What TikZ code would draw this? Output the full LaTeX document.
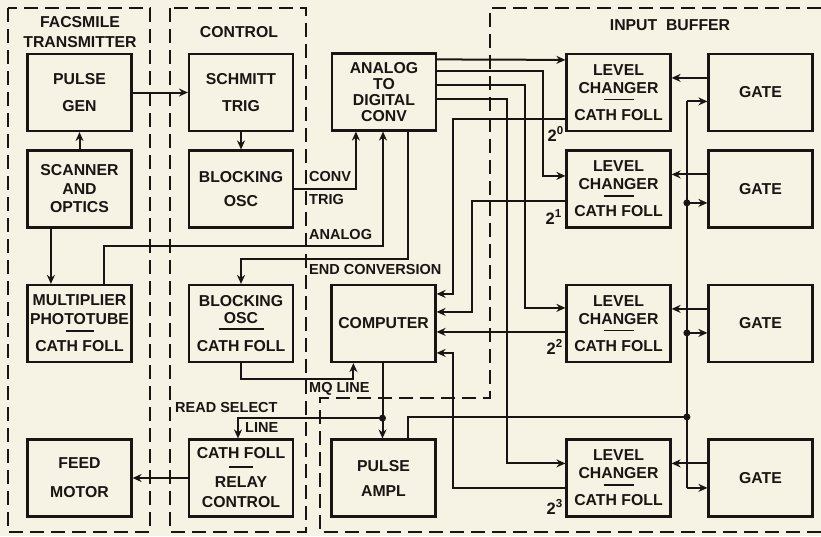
\documentclass[tikz,border=0pt]{standalone}
\usepackage{fontspec}
\setmainfont{Liberation Sans}
\usetikzlibrary{arrows.meta,calc}
\definecolor{bg}{RGB}{246,242,228}
\definecolor{ink}{RGB}{24,21,18}
\newcommand{\dvr}[1]{\rule{#1}{1.8pt}}
\newcommand{\bs}[1]{\bfseries\fontsize{15.8}{#1}\selectfont}
\tikzset{
  blk/.style={draw=ink, line width=2.2pt, fill=bg, minimum width=104pt, minimum height=77pt,
    inner sep=0pt, align=center, text=ink},
  wire/.style={draw=ink, line width=2pt},
  arr/.style={wire, -{Stealth[length=9pt,width=8pt]}},
  frame/.style={draw=ink, line width=2pt, dash pattern=on 14pt off 7pt},
  lbl/.style={text=ink, font=\bfseries\fontsize{14.5}{16}\selectfont, inner sep=0pt},
  pw/.style={text=ink, font=\bfseries\fontsize{16.5}{18}\selectfont, inner sep=0pt},
  ttl/.style={text=ink, font=\bfseries\fontsize{15.8}{20}\selectfont, inner sep=0pt, align=center},
  jdot/.style={circle, fill=ink, inner sep=0pt, minimum size=7pt},
}
\begin{document}
\begin{tikzpicture}[x=1pt,y=-1pt]
\fill[bg] (0,0) rectangle (821,536);
\useasboundingbox (0,0) rectangle (821,536);

% dashed frames
\draw[frame] (8,8) rectangle (150,532);
\draw[frame] (170,8) rectangle (306,532);
\draw[frame] (821,8) -- (490,8) -- (490,398) -- (320,398) -- (320,532) -- (821,532);

% titles
\node[ttl] (tft) at (80,32) {FACSMILE\\TRANSMITTER};
\node[ttl] (tct) at (239,32) {CONTROL};
\node[ttl] (tib) at (670,25) {INPUT\ \ BUFFER};

% blocks
\node[blk, font=\bs{27}] (pg) at (79.5,92.5) {PULSE\\GEN};
\node[blk, font=\bs{18.5}] (sc) at (79.5,189) {SCANNER\\AND\\OPTICS};
\node[blk, font=\bs{19}] (mp) at (79.5,323.5) {MULTIPLIER\\PHOTOTUBE\\[-12pt]\dvr{28pt}\\[1pt]CATH FOLL};
\node[blk, font=\bs{29}] (fm) at (79.5,478) {FEED\\MOTOR};

\node[blk, font=\bs{27}] (st) at (241,92.5) {SCHMITT\\TRIG};
\node[blk, font=\bs{24}] (bo1) at (241,189) {BLOCKING\\OSC};
\node[blk, font=\bs{17}] (bo2) at (241,323.5) {BLOCKING\\OSC\\[-10pt]\dvr{45pt}\\[4.5pt]CATH FOLL};
\node[blk, font=\bs{20}] (rc) at (241,478) {CATH FOLL\\[-11pt]\dvr{24pt}\\[0pt]RELAY\\CONTROL};

\node[blk, font=\bs{16}] (adc) at (384,92) {ANALOG\\TO\\DIGITAL\\CONV};
\node[blk, font=\bs{18}] (comp) at (383.5,323.5) {COMPUTER};
\node[blk, font=\bs{25}] (pa) at (383.5,478) {PULSE\\AMPL};

\node[blk, font=\bs{18}] (lc1) at (618.5,92.5) {LEVEL\\CHANGER\\[-11pt]\dvr{30pt}\\[2pt]CATH FOLL};
\node[blk, font=\bs{18}] (lc2) at (618.5,189) {LEVEL\\CHANGER\\[-11pt]\dvr{30pt}\\[2pt]CATH FOLL};
\node[blk, font=\bs{18}] (lc3) at (618.5,323.5) {LEVEL\\CHANGER\\[-11pt]\dvr{30pt}\\[2pt]CATH FOLL};
\node[blk, font=\bs{18}] (lc4) at (618.5,478) {LEVEL\\CHANGER\\[-11pt]\dvr{30pt}\\[2pt]CATH FOLL};

\node[blk, font=\bs{18}] (g1) at (760.5,92.5) {GATE};
\node[blk, font=\bs{18}] (g2) at (760.5,189) {GATE};
\node[blk, font=\bs{18}] (g3) at (760.5,323.5) {GATE};
\node[blk, font=\bs{18}] (g4) at (760.5,478) {GATE};

% facsimile / control wiring
\draw[arr] (pg.east) -- (st.west);
\draw[arr] (sc.north) -- (pg.south);
\draw[arr] (st.south) -- (bo1.north);
\draw[arr] ($(sc.south west)+(24.5,0)$) -- ($(mp.north west)+(24.5,0)$);
\draw[arr] ($(mp.north west)+(77.5,0)$) -- ++(0,-38) -| ($(adc.south)+(-1,0)$);
\draw[arr] (bo1.east) -| ($(adc.south west)+(25,0)$);
\draw[arr] ($(adc.south west)+(77,0)$) -- ++(0,127.5) -| (bo2.north);
\draw[arr] (bo2.south) -- ++(0,16) -| ($(comp.south west)+(23,0)$);
\draw[arr] (rc.west) -- (fm.east);

% computer / pulse ampl / read select
\coordinate (j1) at ($(comp.south)+(-1,55)$);
\draw[arr] ($(comp.south)+(-1,0)$) -- ($(pa.north)+(-1,0)$);
\draw[arr] (j1) -| ($(rc.north)+(-3,0)$);
\node[jdot] (d1) at (j1) {};

% bus to gates
\coordinate (bT) at ($(g1.north west)+(-20.5,48.5)$);
\coordinate (bB) at ($(g4.north west)+(-20.5,49.5)$);
\coordinate (b2) at ($(g2.north west)+(-20.5,53.5)$);
\coordinate (b3) at ($(g3.north west)+(-20.5,49)$);
\coordinate (bR) at ($(g4.north west)+(-20.5,-21.5)$);
\draw[wire] (bT) -- (bB);
\draw[arr] (bT) -- (bT -| g1.west);
\draw[arr] (b2) -- (b2 -| g2.west);
\draw[arr] (b3) -- (b3 -| g3.west);
\draw[arr] (bB) -- (bB -| g4.west);
\draw[wire] ($(pa.north west)+(78,0)$) |- (bR);
\node[jdot] (d2) at (b2) {};
\node[jdot] (d3) at (b3) {};
\node[jdot] (d4) at (bR) {};

% gates to level changers
\draw[arr] ($(g1.north west)+(0,25)$) -- ($(lc1.north east)+(0,25)$);
\draw[arr] ($(g2.north west)+(0,25)$) -- ($(lc2.north east)+(0,25)$);
\draw[arr] ($(g3.north west)+(0,25)$) -- ($(lc3.north east)+(0,25)$);
\draw[arr] ($(g4.north west)+(0,25)$) -- ($(lc4.north east)+(0,25)$);

% ADC to level changers
\draw[arr] ($(adc.north east)+(0,7)$) -- ($(lc1.north west)+(0,7)$);
\draw[arr] ($(adc.north east)+(0,18.5)$) -- ++(106,0) |- ($(lc2.north west)+(0,26.5)$);
\draw[arr] ($(adc.north east)+(0,32.5)$) -- ++(88,0) |- ($(lc3.north west)+(0,24)$);
\draw[arr] ($(adc.north east)+(0,46.5)$) -- ++(70,0) |- ($(lc4.north west)+(0,25)$);

% level changers to computer
\draw[arr] ($(lc1.north west)+(0,66.5)$) -- ++(-112.5,0) |- ($(comp.north east)+(0,10)$);
\draw[arr] ($(lc2.north west)+(0,51.5)$) -- ++(-93.5,0) |- ($(comp.north east)+(0,28)$);
\draw[arr] ($(lc3.north west)+(0,48)$) -- ($(comp.north east)+(0,48)$);
\draw[arr] ($(lc4.north west)+(0,49.5)$) -- ++(-112.5,0) |- ($(comp.north east)+(0,69)$);

% labels
\node[lbl, anchor=west] (lconv) at (309,177) {CONV};
\node[lbl, anchor=west] (ltrig) at (309,200) {TRIG};
\node[lbl, anchor=west] (lana) at (309,235) {ANALOG};
\node[lbl, anchor=west] (lend) at (309,270) {END CONVERSION};
\node[lbl, anchor=west] (lmq) at (309,389) {MQ LINE};
\node[lbl, anchor=west] (lrs) at (175,407) {READ SELECT};
\node[lbl, anchor=west] (lline) at (245,428) {LINE};
\node[pw, anchor=east] (p0) at (564,134) {2\textsuperscript{0}};
\node[pw, anchor=east] (p1) at (562,217) {2\textsuperscript{1}};
\node[pw, anchor=east] (p2) at (563,347) {2\textsuperscript{2}};
\node[pw, anchor=east] (p3) at (563,507) {2\textsuperscript{3}};
\end{tikzpicture}
\end{document}
